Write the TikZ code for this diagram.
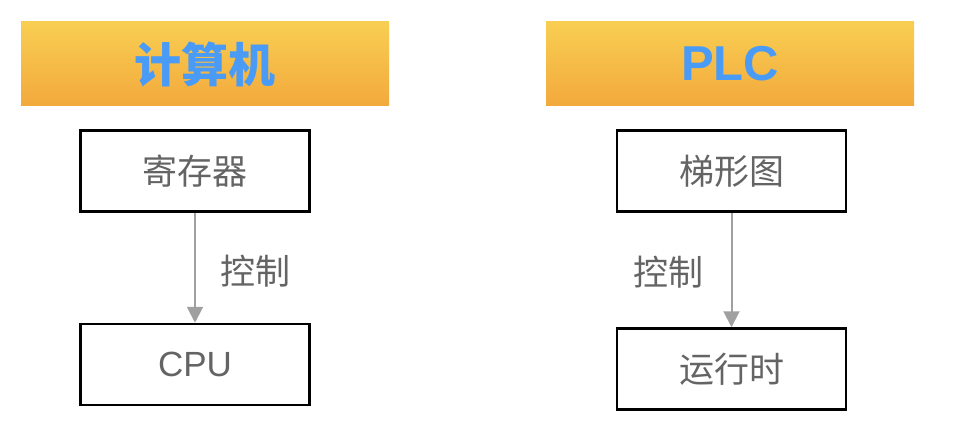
\documentclass[tikz,border=0pt]{standalone}
\usepackage{fontspec}
\setmainfont{Liberation Sans}
\newfontfamily\cjk{Noto Sans CJK SC}
\usetikzlibrary{arrows.meta}
\definecolor{hdtop}{HTML}{F8CE52}
\definecolor{hdbot}{HTML}{F3A93C}
\definecolor{hdtext}{HTML}{4A9BF6}
\definecolor{boxtext}{HTML}{646464}
\definecolor{arrowgray}{HTML}{A0A0A0}
\begin{document}
\begin{tikzpicture}[x=1pt,y=-1pt,
  header/.style={minimum width=368pt,minimum height=84pt,inner sep=0pt,top color=hdtop,bottom color=hdbot,draw=none,text=hdtext,font=\cjk\bfseries\fontsize{47}{50}\selectfont},
  boxnode/.style={draw=black,line width=2.5pt,minimum width=229pt,minimum height=81pt,inner sep=0pt,text=boxtext,font=\cjk\fontsize{35}{38}\selectfont},
  ctrl/.style={->,>={Triangle[width=16pt,length=16pt]},draw=arrowgray,line width=2pt},
  lbl/.style={text=boxtext,font=\cjk\fontsize{35}{38}\selectfont,inner sep=0pt}]
\useasboundingbox (0,0) rectangle (954,444);
\node[header] (h1) at (205,64) {计算机};
\node[header,font=\bfseries\fontsize{49}{52}\selectfont] (h2) at (730,64) {PLC};
\node[boxnode] (b1) at (195,171) {寄存器};
\node[boxnode,font=\fontsize{35}{38}\selectfont] (b2) at (195,364.5) {CPU};
\node[boxnode] (b3) at (731.5,171) {梯形图};
\node[boxnode] (b4) at (731.5,369) {运行时};
\draw[ctrl] (b1.south) -- (b2.north);
\draw[ctrl] (b3.south) -- (b4.north);
\node[lbl] (l1) at (255,271) {控制};
\node[lbl] (l2) at (668,272) {控制};
\end{tikzpicture}
\end{document}
